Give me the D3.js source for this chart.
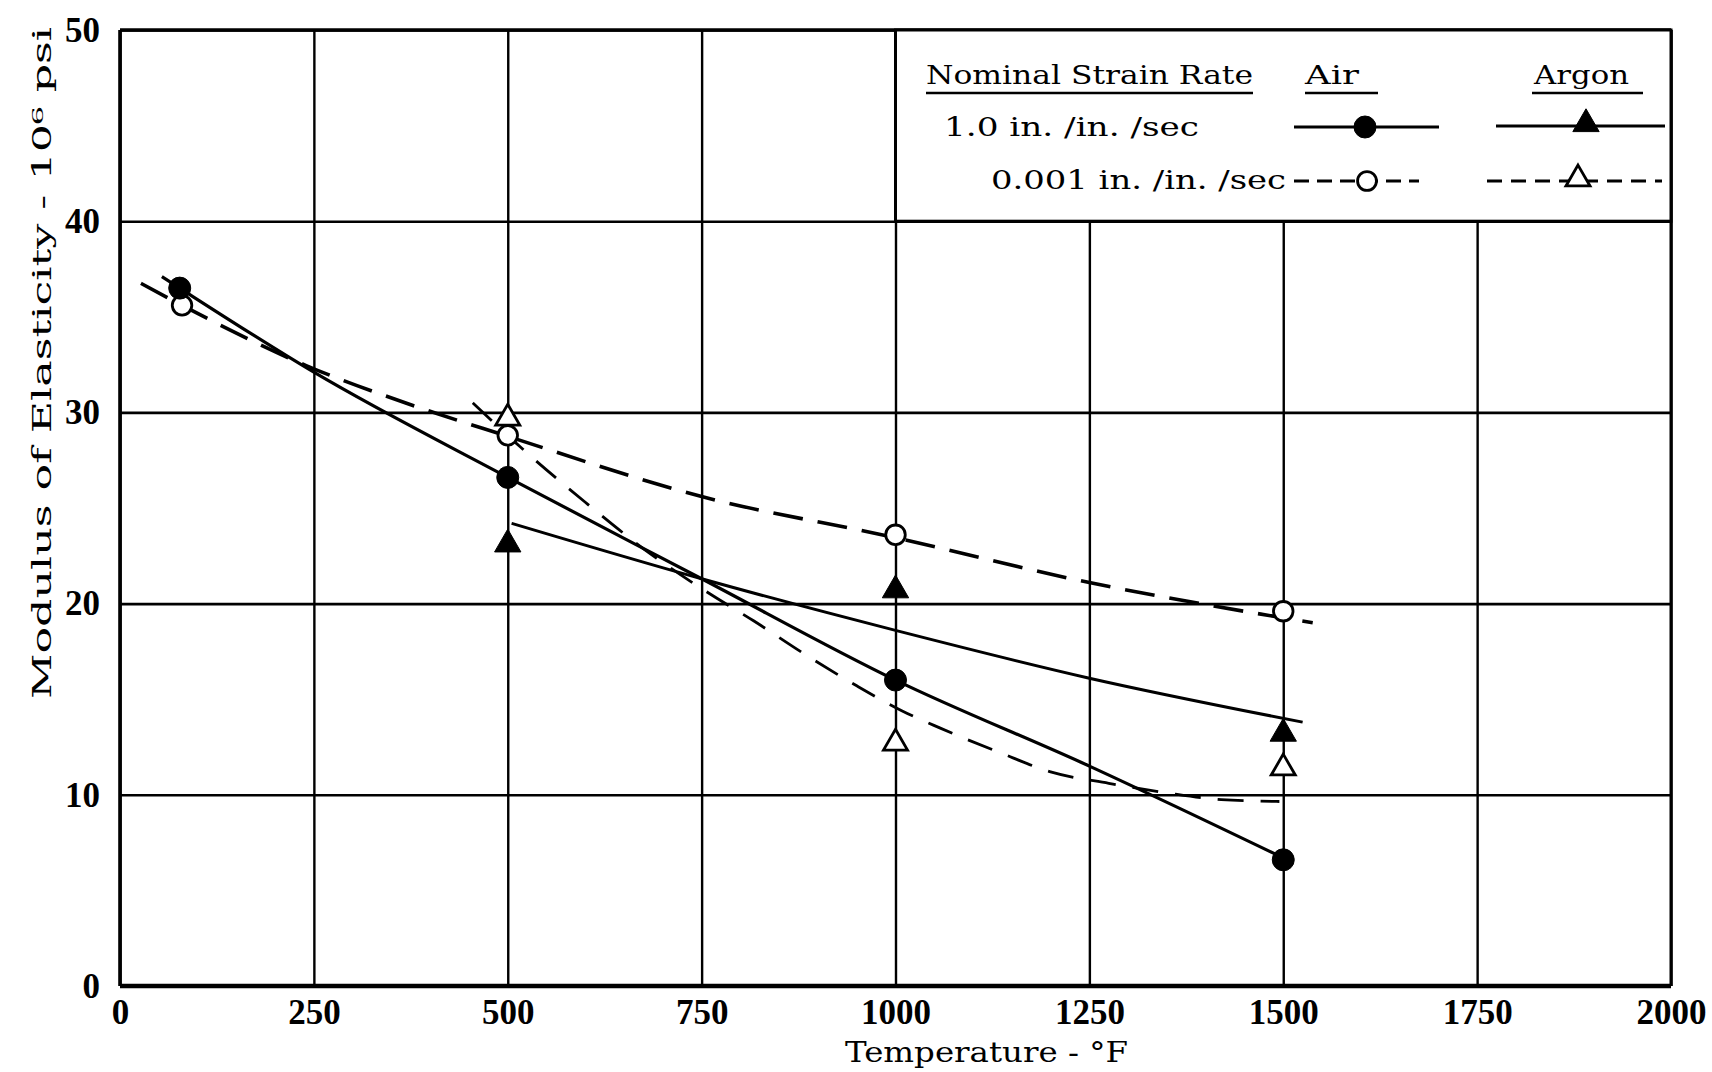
<!DOCTYPE html>
<html>
<head>
<meta charset="utf-8">
<script src="https://cdn.jsdelivr.net/npm/d3@7"></script>
<style>
  html, body { margin: 0; padding: 0; background: #fff; }
  svg { display: block; }
</style>
</head>
<body>
<svg id="chart" width="1712" height="1072"></svg>
<script>
// ---------------- DATA ----------------
const xTicks = [0, 250, 500, 750, 1000, 1250, 1500, 1750, 2000];
const yTicks = [0, 10, 20, 30, 40, 50];

// measured points: [temperature °F, modulus 10^6 psi]
const airFastPts   = [[77, 36.5], [500, 26.6], [1000, 16.0], [1500, 6.6]];
const airSlowPts   = [[80, 35.6], [500, 28.8], [1000, 23.6], [1500, 19.6]];
const argonFastPts = [[500, 23.1], [1000, 20.7], [1500, 13.2]];
const argonSlowPts = [[500, 29.7], [1000, 12.7], [1500, 11.4]];

// hand-drawn fitted curves
const airFastCurve   = [[54, 37.1], [77, 36.5], [250, 32.1], [500, 26.6], [750, 21.3], [1000, 16.0], [1250, 11.5], [1500, 6.7]];
const airSlowCurve   = [[27, 36.75], [80, 35.6], [240, 32.45], [375, 30.4], [500, 28.75], [750, 25.6], [1000, 23.45], [1250, 21.1], [1400, 19.95], [1538, 19.0]];
const argonFastCurve = [[505, 24.2], [750, 21.3], [1000, 18.6], [1250, 16.1], [1525, 13.8]];
const argonSlowCurve = [[455, 30.5], [516, 28.2], [600, 25.3], [684, 22.6], [761, 20.5], [817, 19.1], [885, 17.3], [950, 15.7], [1008, 14.4], [1057, 13.5], [1135, 12.2], [1200, 11.2], [1275, 10.6], [1350, 10.1], [1420, 9.75], [1495, 9.65]];

const xTitle = "Temperature - °F";
const yTitle = "Modulus of Elasticity - 10⁶ psi";
const legendHeader = ["Nominal Strain Rate", "Air", "Argon"];
const legendRows = ["1.0 in. /in. /sec", "0.001 in. /in. /sec"];

// ---------------- LAYOUT ----------------
const W = 1712, H = 1072;
const m = { left: 120, right: 41, top: 30, bottom: 86 };
const iw = W - m.left - m.right, ih = H - m.top - m.bottom;

const svg = d3.select("#chart");
svg.append("rect").attr("width", W).attr("height", H).attr("fill", "#fff");
const g = svg.append("g").attr("transform", `translate(${m.left},${m.top})`);

const x = d3.scaleLinear().domain([0, 2000]).range([0, iw]);
const y = d3.scaleLinear().domain([0, 50]).range([ih, 0]);

const tickFont = "'Liberation Serif', 'DejaVu Serif', serif";
const textFont = "'DejaVu Serif', 'Liberation Serif', serif";

// grid + ticks via axes
const xAxis = g.append("g").attr("transform", `translate(0,${ih})`)
  .call(d3.axisBottom(x).tickValues(xTicks).tickSize(-ih).tickPadding(13).tickFormat(d3.format("d")));
xAxis.select(".domain").remove();
xAxis.selectAll(".tick line").attr("stroke", "#000").attr("stroke-width", 2.4);
xAxis.selectAll(".tick text").attr("fill", "#000")
  .style("font-family", tickFont).style("font-size", "35px").style("font-weight", "bold");

const yAxis = g.append("g")
  .call(d3.axisLeft(y).tickValues(yTicks).tickSize(-iw).tickPadding(20).tickFormat(d3.format("d")));
yAxis.select(".domain").remove();
yAxis.selectAll(".tick line").attr("stroke", "#000").attr("stroke-width", 2.6);
yAxis.selectAll(".tick text").attr("fill", "#000")
  .style("font-family", tickFont).style("font-size", "35px").style("font-weight", "bold");

// frame
g.append("line").attr("x1", 0).attr("x2", iw).attr("y1", y(50)).attr("y2", y(50)).attr("stroke", "#000").attr("stroke-width", 3.5);
g.append("line").attr("x1", 0).attr("x2", iw).attr("y1", y(0)).attr("y2", y(0)).attr("stroke", "#000").attr("stroke-width", 4.5);
g.append("line").attr("x1", x(0)).attr("x2", x(0)).attr("y1", 0).attr("y2", ih).attr("stroke", "#000").attr("stroke-width", 3.6);
g.append("line").attr("x1", x(2000)).attr("x2", x(2000)).attr("y1", 0).attr("y2", ih).attr("stroke", "#000").attr("stroke-width", 3);

// curves
const line = d3.line().x(d => x(d[0])).y(d => y(d[1])).curve(d3.curveMonotoneX);
g.append("path").datum(airFastCurve).attr("d", line).attr("fill", "none").attr("stroke", "#000").attr("stroke-width", 3.2);
g.append("path").datum(argonFastCurve).attr("d", line).attr("fill", "none").attr("stroke", "#000").attr("stroke-width", 3);
g.append("path").datum(airSlowCurve).attr("d", line).attr("fill", "none").attr("stroke", "#000").attr("stroke-width", 3.6).attr("stroke-dasharray", "30,15");
g.append("path").datum(argonSlowCurve).attr("d", line).attr("fill", "none").attr("stroke", "#000").attr("stroke-width", 2.8).attr("stroke-dasharray", "26,17");

// markers
const sym = (type, size) => d3.symbol().type(type).size(size)();
function markers(data, type, size, filled) {
  g.selectAll(null).data(data).enter().append("path")
    .attr("d", sym(type, size))
    .attr("transform", d => `translate(${x(d[0])},${y(d[1])})`)
    .attr("fill", filled ? "#000" : "#fff")
    .attr("stroke", "#000").attr("stroke-width", filled ? 1 : 2.8);
}
markers(airSlowPts, d3.symbolCircle, 300, false);
markers(airFastPts, d3.symbolCircle, 380, true);
markers(argonSlowPts, d3.symbolTriangle, 250, false);
markers(argonFastPts, d3.symbolTriangle, 300, true);

// ---------------- LEGEND (box from 1000..2000 °F, 40..50) ----------------
const lg = g.append("g");
lg.append("rect").attr("x", x(1000)).attr("y", y(50)).attr("width", x(2000) - x(1000)).attr("height", y(40) - y(50))
  .attr("fill", "#fff").attr("stroke", "#000").attr("stroke-width", 3);

const px = v => v - m.left, py = v => v - m.top;
function ltext(str, xs, xe, base, size) {
  lg.append("text").attr("x", px(xs)).attr("y", py(base)).text(str)
    .attr("textLength", xe - xs).attr("lengthAdjust", "spacingAndGlyphs")
    .style("font-family", textFont).style("font-size", size + "px").attr("fill", "#000");
}
ltext(legendHeader[0], 926, 1253, 84, 26);
ltext(legendHeader[1], 1305, 1359, 84, 26);
ltext(legendHeader[2], 1534, 1629, 84, 26);
[[926, 1253], [1305, 1378], [1532, 1643]].forEach(([a, b]) =>
  lg.append("line").attr("x1", px(a)).attr("x2", px(b)).attr("y1", py(93)).attr("y2", py(93)).attr("stroke", "#000").attr("stroke-width", 2.4));
ltext(legendRows[0], 944, 1199, 136, 26);
ltext(legendRows[1], 991, 1286, 189, 26);

function lline(xs, xe, yy, dash, w) {
  const l = lg.append("line").attr("x1", px(xs)).attr("x2", px(xe)).attr("y1", py(yy)).attr("y2", py(yy))
    .attr("stroke", "#000").attr("stroke-width", w);
  if (dash) l.attr("stroke-dasharray", dash);
}
lline(1294, 1439, 127, null, 3);
lline(1496, 1665, 126, null, 3);
lline(1294, 1419, 181, "15,8", 2.8);
lline(1487, 1662, 181, "15,9", 2.8);
function lmark(xx, yy, type, size, filled) {
  lg.append("path").attr("d", sym(type, size)).attr("transform", `translate(${px(xx)},${py(yy)})`)
    .attr("fill", filled ? "#000" : "#fff").attr("stroke", "#000").attr("stroke-width", filled ? 1 : 2.8);
}
lmark(1365, 127, d3.symbolCircle, 380, true);
lmark(1586, 124, d3.symbolTriangle, 300, true);
lmark(1367, 181, d3.symbolCircle, 280, false);
lmark(1578, 179, d3.symbolTriangle, 250, false);

// ---------------- AXIS TITLES ----------------
svg.append("text").attr("x", 845).attr("y", 1062).text(xTitle)
  .attr("textLength", 283).attr("lengthAdjust", "spacingAndGlyphs")
  .style("font-family", textFont).style("font-size", "27px").attr("fill", "#000");
svg.append("text").attr("transform", "translate(51,699) rotate(-90)").attr("x", 0).attr("y", 0).text(yTitle)
  .attr("textLength", 672).attr("lengthAdjust", "spacingAndGlyphs")
  .style("font-family", textFont).style("font-size", "26px").attr("fill", "#000");
</script>
</body>
</html>
